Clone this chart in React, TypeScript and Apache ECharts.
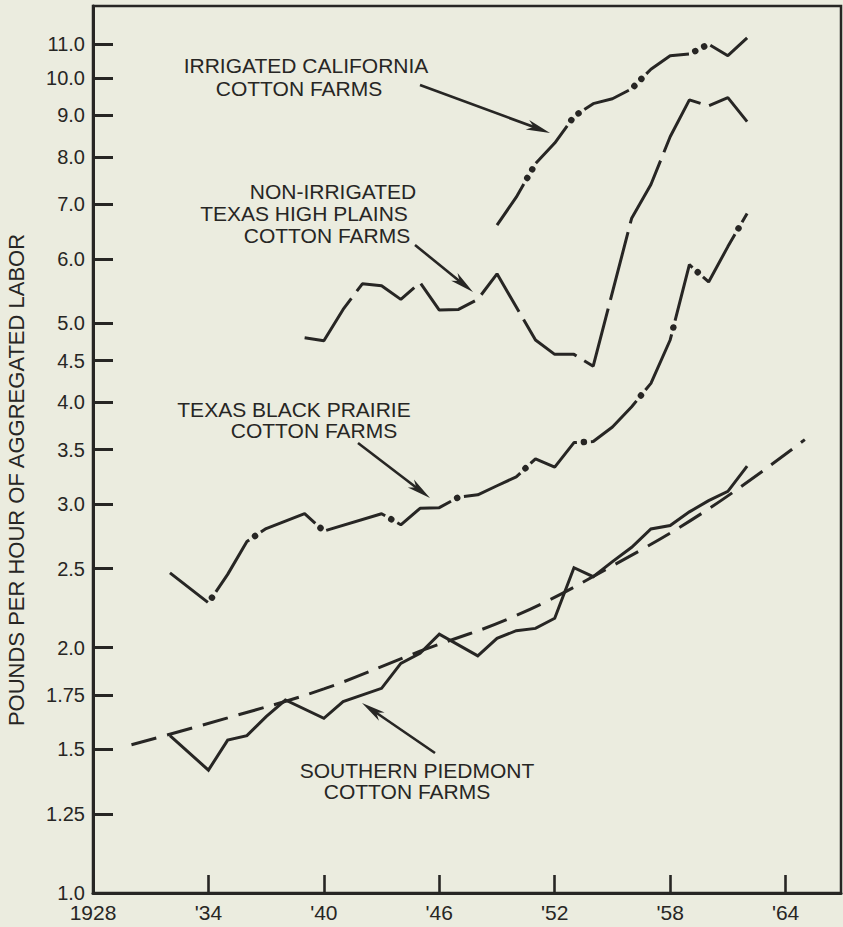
import React, { useEffect, useRef } from "react";
import * as echarts from "echarts";

// ---- axis ticks ----
const xTickYears = [1928, 1934, 1940, 1946, 1952, 1958, 1964];
const xTickLabels = ["1928", "'34", "'40", "'46", "'52", "'58", "'64"];
const yTickValues = [1.0, 1.25, 1.5, 1.75, 2.0, 2.5, 3.0, 3.5, 4.0, 4.5, 5.0, 6.0, 7.0, 8.0, 9.0, 10.0, 11.0];
const yTickLabels = ["1.0", "1.25", "1.5", "1.75", "2.0", "2.5", "3.0", "3.5", "4.0", "4.5", "5.0", "6.0", "7.0", "8.0", "9.0", "10.0", "11.0"];

// ---- series ----
const piedmontYears = [1932, 1934, 1935, 1936, 1937, 1938, 1940, 1941, 1943, 1944, 1945, 1946, 1948, 1949, 1950, 1951, 1952, 1953, 1954, 1955, 1956, 1957, 1958, 1959, 1960, 1961, 1962];
const piedmontValues = [1.56, 1.415, 1.54, 1.56, 1.646, 1.725, 1.638, 1.717, 1.783, 1.913, 1.968, 2.078, 1.954, 2.053, 2.098, 2.112, 2.173, 2.507, 2.444, 2.55, 2.656, 2.797, 2.824, 2.935, 3.03, 3.11, 3.34];

const trendYears = [1930, 1935, 1940, 1945, 1950, 1955, 1960, 1965];
const trendValues = [1.52, 1.64, 1.78, 1.98, 2.19, 2.52, 2.96, 3.6];

const prairieYears = [1932, 1934, 1935, 1936, 1937, 1939, 1940, 1943, 1944, 1945, 1946, 1947, 1948, 1949, 1950, 1951, 1952, 1953, 1954, 1955, 1956, 1957, 1958, 1959, 1960, 1961, 1962];
const prairieValues = [2.47, 2.27, 2.46, 2.7, 2.8, 2.92, 2.78, 2.92, 2.83, 2.965, 2.97, 3.06, 3.08, 3.16, 3.24, 3.41, 3.33, 3.57, 3.58, 3.73, 3.95, 4.22, 4.77, 5.9, 5.62, 6.21, 6.82];

const plainsYears = [1939, 1940, 1941, 1942, 1943, 1944, 1945, 1946, 1947, 1948, 1949, 1951, 1952, 1953, 1954, 1956, 1957, 1958, 1959, 1960, 1961, 1962];
const plainsValues = [4.8, 4.76, 5.2, 5.59, 5.56, 5.35, 5.61, 5.19, 5.2, 5.35, 5.75, 4.77, 4.58, 4.58, 4.43, 6.73, 7.4, 8.47, 9.4, 9.24, 9.46, 8.84];

const californiaYears = [1949, 1950, 1951, 1952, 1953, 1954, 1955, 1956, 1957, 1958, 1959, 1960, 1961, 1962];
const californiaValues = [6.6, 7.14, 7.85, 8.32, 8.97, 9.3, 9.43, 9.7, 10.25, 10.65, 10.7, 11.0, 10.65, 11.2];

const yAxisTitle = "POUNDS PER HOUR OF AGGREGATED LABOR";

const INK = "#272624";
const BG = "#ebecdf";
const FONT = "'Liberation Sans', Arial, sans-serif";

const toLog = (years: number[], vals: number[]) => years.map((y, i) => [y, Math.log10(vals[i])]);

function arrow(tail: [number, number], tip: [number, number]) {
  const dx = tip[0] - tail[0];
  const dy = tip[1] - tail[1];
  const len = Math.hypot(dx, dy);
  const ux = dx / len, uy = dy / len;
  const nx = -uy, ny = ux;
  const L = 24, W = 5;
  const bx = tip[0] - ux * L, by = tip[1] - uy * L;
  return [
    {
      type: "line",
      shape: { x1: tail[0], y1: tail[1], x2: tip[0] - ux * 12, y2: tip[1] - uy * 12 },
      style: { stroke: INK, lineWidth: 2.6 },
    },
    {
      type: "polygon",
      shape: {
        points: [
          [tip[0], tip[1]],
          [bx + nx * W, by + ny * W],
          [tip[0] - ux * L * 0.72, tip[1] - uy * L * 0.72],
          [bx - nx * W, by - ny * W],
        ],
      },
      style: { fill: INK },
    },
  ];
}

function label(text: string, x: number, y: number) {
  return {
    type: "text",
    x,
    y,
    style: { text, fill: INK, fontSize: 21, fontFamily: FONT, align: "center", verticalAlign: "middle" },
  };
}

export default function App() {
  const ref = useRef<HTMLDivElement>(null);

  useEffect(() => {
    if (!ref.current) return;
    const chart = echarts.init(ref.current, null, { renderer: "svg" });
    const yLog = yTickValues.map((v) => Math.log10(v));
    const yMax = 1.0883;

    const lineBase = { type: "line", showSymbol: false, symbol: "none", silent: true };

    const option: any = {
      animation: false,
      backgroundColor: BG,
      grid: {
        left: 93,
        right: 2,
        top: 6,
        bottom: 34,
        show: true,
        borderColor: INK,
        borderWidth: 2.5,
        containLabel: false,
        outerBoundsMode: "none",
      },
      xAxis: {
        type: "value",
        min: 1928,
        max: 1966.88,
        axisLine: { show: true, onZero: false, lineStyle: { color: INK, width: 3 } },
        axisTick: { show: true, inside: true, length: 18, customValues: xTickYears, lineStyle: { color: INK, width: 2.6 } },
        axisLabel: {
          customValues: xTickYears,
          margin: 9,
          color: INK,
          fontSize: 21,
          fontFamily: FONT,
          formatter: (v: number) => {
            const i = xTickYears.findIndex((t) => Math.abs(t - v) < 1e-6);
            return i >= 0 ? xTickLabels[i] : "";
          },
        },
        splitLine: { show: false },
      },
      yAxis: {
        type: "value",
        min: 0,
        max: yMax,
        axisLine: { show: true, onZero: false, lineStyle: { color: INK, width: 3 } },
        axisTick: { show: true, inside: true, length: 20, customValues: yLog, lineStyle: { color: INK, width: 3 } },
        axisLabel: {
          customValues: yLog,
          margin: 8,
          color: INK,
          fontSize: 20,
          fontFamily: FONT,
          formatter: (v: number) => {
            const i = yLog.findIndex((t) => Math.abs(t - v) < 1e-6);
            return i >= 0 ? yTickLabels[i] : "";
          },
        },
        splitLine: { show: false },
      },
      series: [
        {
          ...lineBase,
          name: "Southern Piedmont",
          data: toLog(piedmontYears, piedmontValues),
          lineStyle: { color: INK, width: 3, join: "miter" },
        },
        {
          ...lineBase,
          name: "Piedmont trend",
          smooth: 0.4,
          data: toLog(trendYears, trendValues),
          lineStyle: { color: INK, width: 3, type: [26, 11] },
        },
        {
          ...lineBase,
          name: "Texas Black Prairie",
          data: toLog(prairieYears, prairieValues),
          lineStyle: { color: INK, width: 3, type: [62, 14], dashOffset: 14 },
        },
        {
          ...lineBase,
          name: "Texas Black Prairie dots",
          data: toLog(prairieYears, prairieValues),
          lineStyle: { color: INK, width: 6.5, type: [0.01, 75.99], dashOffset: 21, cap: "round" },
        },
        {
          ...lineBase,
          name: "Non-irrigated Texas High Plains",
          data: toLog(plainsYears, plainsValues),
          lineStyle: { color: INK, width: 3, type: [70, 9] },
        },
        {
          ...lineBase,
          name: "Irrigated California",
          data: toLog(californiaYears, californiaValues),
          lineStyle: { color: INK, width: 3, type: [49, 24] },
        },
        {
          ...lineBase,
          name: "Irrigated California dots",
          data: toLog(californiaYears, californiaValues),
          lineStyle: { color: INK, width: 6.5, type: [0.01, 10, 0.01, 62.98], dashOffset: 17, cap: "round" },
        },
      ],
      graphic: [
        {
          type: "text",
          x: 16.5,
          y: 480,
          rotation: Math.PI / 2,
          style: { text: yAxisTitle, fill: INK, fontSize: 22, fontFamily: FONT, align: "center", verticalAlign: "middle" },
        },
        label("IRRIGATED CALIFORNIA", 306, 65),
        label("COTTON FARMS", 299, 88),
        label("NON-IRRIGATED", 333, 191),
        label("TEXAS HIGH PLAINS", 304, 213),
        label("COTTON FARMS", 327, 235),
        label("TEXAS BLACK PRAIRIE", 294, 409),
        label("COTTON FARMS", 314, 430),
        label("SOUTHERN PIEDMONT", 417, 770),
        label("COTTON FARMS", 407, 791),
        ...arrow([420, 85], [550, 133]),
        ...arrow([415, 245], [473, 292]),
        ...arrow([358, 443], [430, 498]),
        ...arrow([435, 753], [362, 703]),
      ],
    };
    chart.setOption(option);
    return () => chart.dispose();
  }, []);

  return (
    <div
      ref={ref}
      style={{ position: "fixed", left: 0, top: 0, width: 843, height: 927, background: BG }}
    />
  );
}
